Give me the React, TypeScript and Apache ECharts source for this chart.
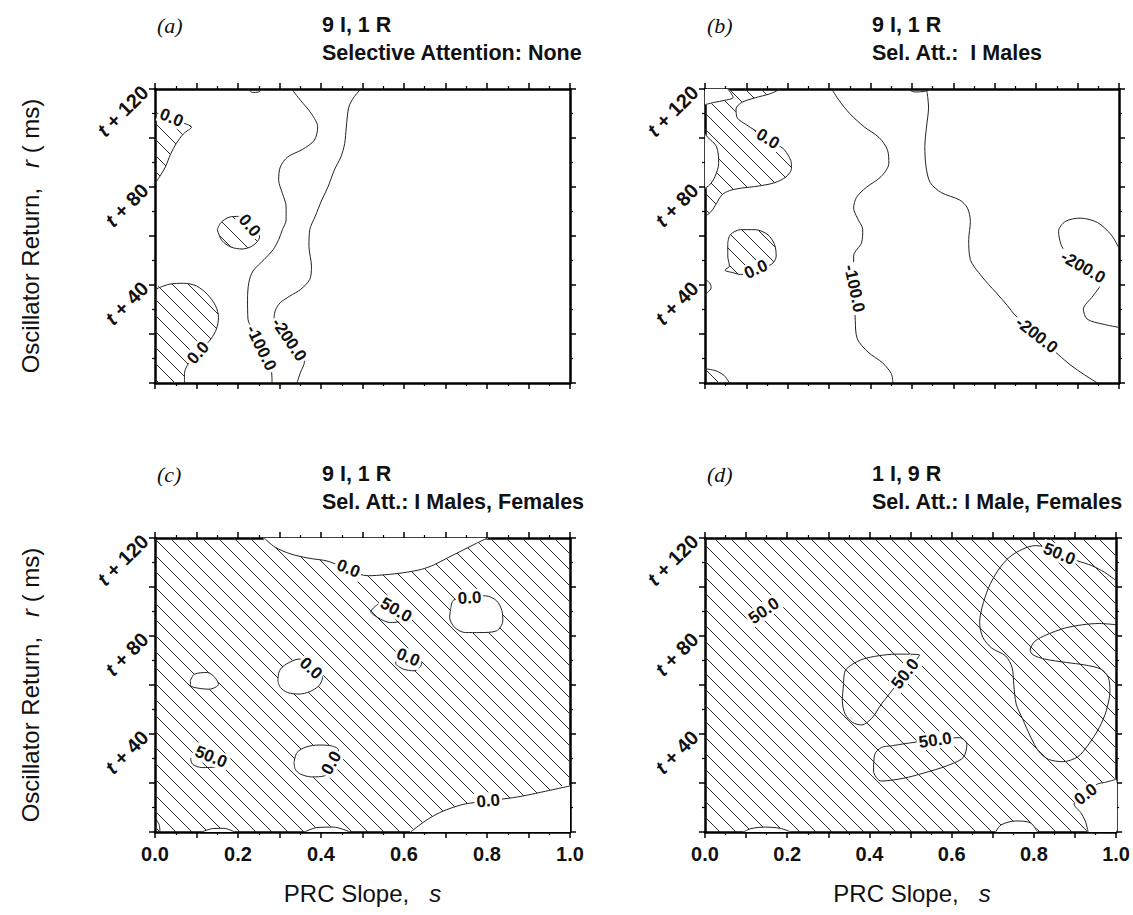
import React, { useEffect, useRef } from 'react';
import * as echarts from 'echarts';

const FONT = '"Liberation Sans", Helvetica, Arial, sans-serif';
const SERIF = '"Liberation Serif", "Times New Roman", serif';

// ---------- tick labels ----------
const X_TICK_LABELS = [0, 0.2, 0.4, 0.6, 0.8, 1.0];
const Y_TICK_LABELS = [40, 80, 120];

// ---------- titles ----------
const PANEL_TAGS = ['(a)', '(b)', '(c)', '(d)'];
const TITLE_LINE1 = ['9 I, 1 R', '9 I, 1 R', '9 I, 1 R', '1 I, 9 R'];
const TITLE_LINE2 = [
  'Selective Attention: None',
  'Sel. Att.:  I Males',
  'Sel. Att.: I Males, Females',
  'Sel. Att.: I Male, Females',
];

// ---------- panel (a) contours  [s, r] ----------
const aZeroTop = [[0, 110.5], [0.034, 108.2], [0.078, 105.5], [0.088, 104.5], [0.069, 101.8], [0.051, 97.7], [0.038, 93.6], [0.025, 88.2], [0.011, 84.2], [0, 81.5]];
const aZeroSpot = [[0.150, 62.6], [0.159, 65.5], [0.179, 67.7], [0.201, 68.0], [0.228, 65.9], [0.247, 62.6], [0.252, 59.6], [0.236, 56.1], [0.210, 54.7], [0.183, 55.5], [0.161, 58.2], [0.150, 62.6]];
const aZeroLow = [[0, 38.2], [0.034, 40.3], [0.069, 40.7], [0.100, 39.6], [0.126, 36.2], [0.146, 31.5], [0.153, 26.8], [0.148, 22.0], [0.135, 18.0], [0.113, 13.9], [0.095, 10.5], [0.078, 7.2], [0.071, 3.8], [0.071, 0]];
const aM100 = [[0.329, 120], [0.351, 115.3], [0.377, 109.9], [0.392, 104.5], [0.384, 99.1], [0.355, 95.3], [0.320, 92.3], [0.302, 88.2], [0.298, 82.8], [0.307, 77.4], [0.316, 72.0], [0.316, 66.6], [0.307, 62.6], [0.298, 58.5], [0.285, 54.5], [0.263, 50.4], [0.236, 45.7], [0.226, 40.9], [0.223, 34.2], [0.224, 26.1], [0.232, 22.7], [0.280, 5.8], [0.282, 0]];
const aM200 = [[0.496, 120], [0.479, 116.6], [0.467, 112.6], [0.461, 104.5], [0.457, 97.7], [0.448, 92.3], [0.432, 86.9], [0.417, 80.1], [0.402, 74.7], [0.386, 68.0], [0.373, 62.6], [0.371, 55.8], [0.377, 47.7], [0.373, 42.3], [0.351, 38.2], [0.325, 35.5], [0.302, 32.8], [0.291, 30.1], [0.287, 26.8], [0.360, 8.5], [0.351, 4.5], [0.342, 0]];
const aBlob = [[0.225, 120], [0.235, 118.6], [0.250, 118.8], [0.258, 120]];
const aLabels = [[0.040, 108.3, '0.0', -22], [0.228, 64.3, '0.0', -50], [0.104, 12.3, '0.0', 48], [0.256, 14.3, '-100.0', -64], [0.323, 17.7, '-200.0', -56]];

// ---------- panel (b) ----------
const bZeroTop = [[0.183, 120], [0.156, 118.0], [0.121, 116.4], [0.090, 114.6], [0.075, 111.9], [0.078, 108.2], [0.099, 105.5], [0.121, 103.1], [0.183, 96.4], [0.193, 95.0], [0.207, 90.9], [0.209, 87.6], [0.196, 84.2], [0.169, 81.8], [0.130, 80.4], [0.086, 79.5], [0.059, 78.5], [0.041, 76.8], [0.028, 73.4], [0.015, 70.0], [0, 68.0]];
const bPocket = [[0.055, 120], [0.068, 116.6], [0.046, 115.3], [0.024, 114.6], [0, 113.6]];
const bSliver = [[0, 101.5], [0.006, 100.4], [0.028, 96.4], [0.033, 89.6], [0.024, 84.2], [0.011, 80.8], [0, 79.5]];
const bZeroSpot = [[0.055, 57.2], [0.061, 60.5], [0.086, 62.6], [0.121, 62.6], [0.152, 60.5], [0.168, 56.5], [0.172, 51.8], [0.160, 48.4], [0.086, 44.3], [0.068, 45.0], [0.048, 46.1], [0.059, 47.7], [0.055, 51.8], [0.055, 57.2]];
const bBump = [[0, 42.3], [0.011, 40.9], [0.015, 38.9], [0.006, 36.9], [0, 36.2]];
const bCorner = [[0, 5.8], [0.024, 5.1], [0.046, 3.1], [0.059, 0]];
const bM100 = [[0.306, 120], [0.324, 115.3], [0.350, 109.9], [0.385, 104.5], [0.421, 100.1], [0.441, 95.0], [0.444, 89.6], [0.425, 84.2], [0.390, 79.9], [0.366, 75.8], [0.359, 71.4], [0.368, 67.3], [0.381, 62.6], [0.378, 57.2], [0.359, 51.8], [0.363, 25.4], [0.368, 18.0], [0.394, 12.6], [0.429, 8.2], [0.450, 3.8], [0.454, 0]];
const bM200 = [[0.535, 120], [0.538, 116.6], [0.540, 112.6], [0.535, 104.5], [0.531, 96.4], [0.534, 88.2], [0.544, 81.8], [0.571, 77.7], [0.615, 74.7], [0.634, 71.4], [0.641, 65.9], [0.637, 58.5], [0.641, 50.4], [0.668, 43.6], [0.703, 36.9], [0.731, 31.5], [0.749, 27.7], [0.854, 11.5], [0.884, 7.2], [0.916, 3.4], [0.948, 0]];
const bBlob = [[0.491, 120], [0.505, 118.8], [0.530, 119.0], [0.545, 120]];
const bM200Right = [[1, 55.1], [0.981, 60.5], [0.948, 65.5], [0.906, 67.3], [0.870, 65.9], [0.854, 61.9], [0.860, 56.5], [0.870, 53.8], [0.957, 40.9], [0.937, 35.5], [0.914, 30.1], [0.923, 26.1], [0.959, 24.1], [1, 22.7]];
const bLabels = [[0.152, 99.7, '0.0', -32], [0.123, 46.4, '0.0', 25], [0.361, 38.6, '-100.0', -78], [0.801, 19.6, '-200.0', -38], [0.913, 47.3, '-200.0', -30]];

// ---------- panel (c) ----------
const cZeroTop = [[0.263, 120], [0.289, 116.3], [0.325, 113.6], [0.369, 111.8], [0.417, 110.5], [0.514, 104.6], [0.554, 105.0], [0.598, 105.8], [0.642, 107.2], [0.673, 109.1], [0.704, 111.8], [0.739, 114.8], [0.774, 117.8], [0.801, 120]];
const cZeroA = [[0.713, 91.7], [0.720, 94.7], [0.796, 96.4], [0.823, 94.4], [0.836, 90.3], [0.838, 86.2], [0.823, 82.1], [0.783, 81.4], [0.748, 81.4], [0.722, 83.5], [0.710, 87.6], [0.713, 91.7]];
const cFiftyA = [[0.532, 92.3], [0.554, 94.4], [0.607, 86.9], [0.567, 85.5], [0.536, 87.6], [0.520, 90.0], [0.532, 92.3]];
const cZeroB = [[0.580, 68.5], [0.598, 66.5], [0.624, 65.8], [0.642, 68.5], [0.633, 71.2], [0.600, 72.0], [0.582, 70.5], [0.580, 68.5]];
const cZeroC = [[0.296, 61.7], [0.300, 65.8], [0.316, 68.5], [0.347, 70.6], [0.404, 63.1], [0.395, 59.7], [0.373, 57.3], [0.347, 56.3], [0.320, 56.9], [0.302, 59.0], [0.296, 61.7]];
const cZeroD = [[0.085, 61.7], [0.095, 64.4], [0.126, 65.1], [0.144, 63.1], [0.153, 60.3], [0.131, 58.3], [0.104, 58.7], [0.086, 59.7], [0.085, 61.7]];
const cFiftyB = [[0.086, 29.7], [0.099, 33.1], [0.170, 28.3], [0.148, 26.6], [0.113, 26.3], [0.091, 27.6], [0.086, 29.7]];
const cZeroE = [[0.335, 28.3], [0.342, 32.4], [0.364, 34.7], [0.395, 35.5], [0.426, 35.1], [0.442, 33.5], [0.408, 22.9], [0.377, 22.5], [0.351, 23.6], [0.338, 25.6], [0.335, 28.3]];
const cZeroLow = [[0.616, 0], [0.651, 4.5], [0.686, 7.9], [0.721, 10.2], [0.752, 11.6], [0.862, 14.0], [0.907, 15.4], [0.951, 17.0], [1, 18.8]];
const cBumpA = [[0.113, 0], [0.139, 1.4], [0.166, 1.5], [0.192, 0]];
const cBumpB = [[0.360, 0], [0.390, 1.8], [0.430, 2.0], [0.470, 0]];
const cEdge = [[0, 5.9], [0.010, 3.0], [0.012, 0]];
const cLabels = [[0.466, 107.5, '0.0', -22], [0.758, 95.6, '0.0', 3], [0.581, 90.6, '50.0', -30], [0.610, 71.3, '0.0', -22], [0.376, 66.8, '0.0', -42], [0.135, 30.7, '50.0', -22], [0.425, 28.2, '0.0', 60], [0.803, 12.7, '0.0', 5]];

// ---------- panel (d) ----------
const dFiftyBig = [[1, 102.6], [0.972, 106.0], [0.941, 108.7], [0.906, 110.7], [0.804, 116.9], [0.773, 115.5], [0.740, 112.1], [0.712, 106.6], [0.690, 99.8], [0.674, 91.7], [0.668, 85.5], [0.676, 79.4], [0.698, 75.0], [0.731, 71.9], [0.747, 67.1], [0.751, 60.3], [0.757, 52.2], [0.773, 46.0], [0.793, 38.5], [0.811, 33.1], [0.835, 29.7], [0.870, 28.7], [0.906, 30.6], [0.932, 35.5], [0.959, 42.6], [0.976, 49.4], [0.985, 57.6], [0.981, 63.1], [0.963, 66.5], [0.923, 68.2], [0.879, 69.2], [0.826, 70.6], [0.798, 72.3], [0.791, 74.2], [0.802, 77.8], [0.831, 80.5], [0.875, 83.2], [0.919, 84.6], [0.959, 85.1], [1, 84.6]];
const dFiftyMid = [[0.337, 60.3], [0.341, 65.8], [0.359, 68.5], [0.385, 70.6], [0.421, 71.9], [0.465, 72.6], [0.522, 72.3], [0.451, 56.9], [0.429, 52.2], [0.407, 46.7], [0.381, 43.7], [0.359, 44.7], [0.341, 48.1], [0.334, 53.5], [0.337, 60.3]];
const dFiftyLow = [[0.451, 35.1], [0.619, 38.5], [0.637, 35.8], [0.628, 30.4], [0.588, 27.0], [0.535, 24.2], [0.482, 21.9], [0.429, 20.8], [0.410, 24.9], [0.413, 31.7], [0.429, 34.5], [0.451, 35.1]];
const dZeroLow = [[1, 21.5], [0.972, 20.2], [0.954, 19.5], [0.898, 11.3], [0.914, 7.9], [0.925, 4.5], [0.932, 0]];
const dBumpA = [[0.094, 0], [0.112, 1.4], [0.147, 2.0], [0.183, 1.5], [0.209, 0]];
const dBumpB = [[0.707, 0], [0.720, 2.9], [0.756, 4.5], [0.791, 3.8], [0.809, 0]];
const dLabels = [[0.862, 113.5, '50.0', -22], [0.143, 90.3, '50.0', 35], [0.487, 64.6, '50.0', 52], [0.560, 37.4, '50.0', 8], [0.926, 15.4, '0.0', 38]];

const FULL = [[0, 0], [1, 0], [1, 120], [0, 120]];

const PANELS = [
  {
    regions: [
      { kind: 'hatch', pts: aZeroTop },
      { kind: 'hatch', pts: aZeroSpot },
      { kind: 'hatch', pts: [...aZeroLow, [0, 0]] },
    ],
    lines: [aZeroTop, aZeroSpot, aZeroLow, aM100, aM200, aBlob],
    labels: aLabels,
  },
  {
    regions: [
      { kind: 'hatch', pts: [[0, 120], ...bZeroTop] },
      { kind: 'white', pts: [[0, 120], ...bPocket] },
      { kind: 'white', pts: bSliver },
      { kind: 'hatch', pts: bZeroSpot },
      { kind: 'hatch', pts: [...bCorner, [0, 0]] },
    ],
    lines: [bZeroTop, bPocket, bSliver, bZeroSpot, bBump, bCorner, bM100, bM200, bBlob, bM200Right],
    labels: bLabels,
  },
  {
    regions: [
      { kind: 'hatch', pts: FULL },
      { kind: 'white', pts: cZeroTop },
      { kind: 'white', pts: cZeroA },
      { kind: 'white', pts: cZeroB },
      { kind: 'white', pts: cZeroC },
      { kind: 'white', pts: cZeroD },
      { kind: 'white', pts: cZeroE },
      { kind: 'white', pts: [...cZeroLow, [1, 0]] },
      { kind: 'white', pts: cBumpA },
      { kind: 'white', pts: cBumpB },
    ],
    lines: [cZeroTop, cZeroA, cFiftyA, cZeroB, cZeroC, cZeroD, cFiftyB, cZeroE, cZeroLow, cBumpA, cBumpB, cEdge],
    labels: cLabels,
  },
  {
    regions: [
      { kind: 'hatch', pts: FULL },
      { kind: 'white', pts: [...dZeroLow, [1, 0]] },
      { kind: 'white', pts: dBumpA },
      { kind: 'white', pts: dBumpB },
    ],
    lines: [dFiftyBig, dFiftyMid, dFiftyLow, dZeroLow, dBumpA, dBumpB],
    labels: dLabels,
  },
];

// ---------- layout ----------
const GRIDS = [
  { left: 155, top: 89, width: 415, height: 294 },
  { left: 705, top: 89, width: 414, height: 294 },
  { left: 155, top: 538, width: 415, height: 294 },
  { left: 705, top: 538, width: 414, height: 294 },
];

function hatchPattern() {
  const w = 16;
  const h = 16;
  const svg =
    `<svg xmlns="http://www.w3.org/2000/svg" width="${w}" height="${h}">` +
    `<path d="M-2 -2 L${w + 2} ${h + 2} M-2 ${h - 2} L2 ${h + 2} M${w - 2} -2 L${w + 2} 2" stroke="#2a2a2a" stroke-width="1" fill="none"/></svg>`;
  return {
    image: 'data:image/svg+xml;charset=utf-8,' + encodeURIComponent(svg),
    repeat: 'repeat',
    imageWidth: w,
    imageHeight: h,
  };
}

function xAxisDef(gi: number, pos: string, labels: boolean) {
  return {
    type: 'value',
    gridIndex: gi,
    position: pos,
    min: 0,
    max: 1,
    interval: 0.1,
    axisLine: { show: true, onZero: false, lineStyle: { color: '#000', width: 2.5 } },
    axisTick: { show: true, inside: false, length: 6, lineStyle: { color: '#000', width: 1.5 } },
    minorTick: { show: true, splitNumber: 2, length: 3, lineStyle: { color: '#000', width: 1.2 } },
    splitLine: { show: false },
    minorSplitLine: { show: false },
    axisLabel: {
      show: labels,
      margin: 12,
      fontSize: 20,
      fontWeight: 'bold',
      fontFamily: FONT,
      color: '#111',
      formatter: (v: number) => (X_TICK_LABELS.some((t) => Math.abs(t - v) < 1e-6) ? v.toFixed(1) : ''),
    },
  };
}

function yAxisDef(gi: number, pos: string, labels: boolean) {
  return {
    type: 'value',
    gridIndex: gi,
    position: pos,
    min: 0,
    max: 120,
    interval: 20,
    axisLine: { show: true, onZero: false, lineStyle: { color: '#000', width: 2.5 } },
    axisTick: { show: true, inside: false, length: 6, lineStyle: { color: '#000', width: 1.5 } },
    minorTick: { show: true, splitNumber: 2, length: 3, lineStyle: { color: '#000', width: 1.2 } },
    splitLine: { show: false },
    minorSplitLine: { show: false },
    axisLabel: {
      show: labels,
      margin: 10,
      rotate: 45,
      fontSize: 20,
      fontWeight: 'bold',
      fontFamily: FONT,
      color: '#111',
      formatter: (v: number) => (Y_TICK_LABELS.indexOf(v) >= 0 ? `{t|t} + ${v}` : ''),
      rich: { t: { fontStyle: 'italic', fontWeight: 'bold', fontSize: 20, fontFamily: FONT, color: '#111' } },
    },
  };
}

function buildOption() {
  const HATCH = hatchPattern();
  const xAxis: any[] = [];
  const yAxis: any[] = [];
  GRIDS.forEach((g, i) => {
    xAxis.push(xAxisDef(i, 'bottom', i >= 2));
    xAxis.push(xAxisDef(i, 'top', false));
    yAxis.push(yAxisDef(i, 'left', true));
    yAxis.push(yAxisDef(i, 'right', false));
  });

  const series: any[] = [];
  PANELS.forEach((p, i) => {
    const xi = 2 * i;
    const yi = 2 * i;
    series.push({
      type: 'custom',
      coordinateSystem: 'cartesian2d',
      xAxisIndex: xi,
      yAxisIndex: yi,
      clip: true,
      silent: true,
      z: 1,
      data: p.regions.map((r, k) => [0.5, 60, k]),
      renderItem: (params: any, api: any) => {
        const r = p.regions[api.value(2)];
        return {
          type: 'polygon',
          shape: { points: r.pts.map((pt: number[]) => api.coord(pt)), smooth: 0.3 },
          style: { fill: r.kind === 'hatch' ? HATCH : '#ffffff', stroke: 'none' },
        };
      },
    });
    p.lines.forEach((line) => {
      series.push({
        type: 'line',
        xAxisIndex: xi,
        yAxisIndex: yi,
        data: line,
        smooth: 0.3,
        symbol: 'none',
        silent: true,
        z: 3,
        lineStyle: { color: '#222', width: 1 },
      });
    });
    series.push({
      type: 'custom',
      coordinateSystem: 'cartesian2d',
      xAxisIndex: xi,
      yAxisIndex: yi,
      silent: true,
      z: 5,
      data: p.labels.map((l, k) => [l[0], l[1], k]),
      renderItem: (params: any, api: any) => {
        const l = p.labels[api.value(2)] as any[];
        const c = api.coord([l[0], l[1]]);
        return {
          type: 'text',
          x: c[0],
          y: c[1],
          rotation: (l[3] * Math.PI) / 180,
          style: {
            text: l[2],
            fontSize: 17,
            fontWeight: 'bold',
            fontFamily: FONT,
            fill: '#111',
            align: 'center',
            verticalAlign: 'middle',
            textAlign: 'center',
            textVerticalAlign: 'middle',
            backgroundColor: '#fff',
            padding: [0, 2],
          },
        };
      },
    });
  });

  const graphic: any[] = [];
  GRIDS.forEach((g, i) => {
    graphic.push({
      type: 'text', x: g.left + 2, y: g.top - 64,
      style: { text: PANEL_TAGS[i], fontFamily: SERIF, fontStyle: 'italic', fontSize: 22, fill: '#111', verticalAlign: 'middle' },
    });
    graphic.push({
      type: 'text', x: g.left + 167, y: g.top - 64,
      style: { text: TITLE_LINE1[i], fontFamily: FONT, fontWeight: 'bold', fontSize: 21.5, fill: '#111', verticalAlign: 'middle' },
    });
    graphic.push({
      type: 'text', x: g.left + 167, y: g.top - 36,
      style: { text: TITLE_LINE2[i], fontFamily: FONT, fontWeight: 'bold', fontSize: 21.5, fill: '#111', verticalAlign: 'middle' },
    });
    if (i % 2 === 0) {
      graphic.push({
        type: 'text', x: 30, y: g.top + g.height / 2, rotation: Math.PI / 2,
        style: {
          text: 'Oscillator Return,   {i|r} ( ms)',
          fontFamily: FONT, fontSize: 24, fill: '#111', align: 'center', verticalAlign: 'middle',
          rich: { i: { fontStyle: 'italic', fontFamily: FONT, fontSize: 24, fill: '#111' } },
        },
      });
    }
    if (i >= 2) {
      graphic.push({
        type: 'text', x: g.left + g.width / 2, y: 893,
        style: {
          text: 'PRC Slope,   {i|s}',
          fontFamily: FONT, fontSize: 24, fill: '#111', align: 'center', verticalAlign: 'middle',
          rich: { i: { fontStyle: 'italic', fontFamily: FONT, fontSize: 24, fill: '#111' } },
        },
      });
    }
  });

  return {
    animation: false,
    backgroundColor: '#ffffff',
    grid: GRIDS.map((g) => ({ ...g, containLabel: false })),
    xAxis,
    yAxis,
    series,
    graphic,
  };
}

export default function App() {
  const ref = useRef<HTMLDivElement>(null);
  useEffect(() => {
    const chart = echarts.init(ref.current as HTMLDivElement, null, { renderer: 'svg' });
    chart.setOption(buildOption() as any);
    return () => chart.dispose();
  }, []);
  return (
    <div
      ref={ref}
      style={{ position: 'absolute', left: 0, top: 0, width: 1133, height: 915, background: '#fff' }}
    />
  );
}
